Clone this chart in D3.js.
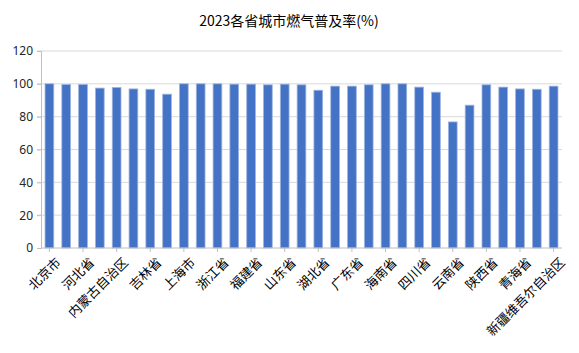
<!DOCTYPE html>
<html>
<head>
<meta charset="utf-8">
<script src="https://cdn.jsdelivr.net/npm/d3@7"></script>
<style>
  body { margin: 0; background: #fff; }
  text { font-family: "Microsoft YaHei", "Noto Sans CJK SC", sans-serif; }
</style>
</head>
<body>
<div id="chart"></div>
<script>
// provinces in the order of the chart
var provinces = ["北京市", "天津市", "河北省", "山西省", "内蒙古自治区", "辽宁省", "吉林省", "黑龙江省",
    "上海市", "江苏省", "浙江省", "安徽省", "福建省", "江西省", "山东省", "河南省",
    "湖北省", "湖南省", "广东省", "广西壮族自治区", "海南省", "重庆市", "四川省", "贵州省",
    "云南省", "西藏自治区", "陕西省", "甘肃省", "青海省", "宁夏回族自治区", "新疆维吾尔自治区"];

// gas coverage rate (%)
var rates = [100, 99.6, 99.6, 97.4, 97.8, 96.9, 96.7, 93.7,
    100, 100, 100, 99.8, 99.8, 99.4, 99.8, 99.4,
    96.1, 98.6, 98.6, 99.4, 100, 100, 98.0, 94.9,
    76.8, 87.0, 99.4, 98.0, 96.9, 96.7, 98.6];

var yTicks = [0, 20, 40, 60, 80, 100, 120];

var setWidth = 579;
var setHeight = 353;
var margin = {top: 51, right: 17, bottom: 105, left: 41};
var width = setWidth - margin.left - margin.right;
var height = setHeight - margin.top - margin.bottom;

var root = d3.select("#chart")
    .append("svg")
    .attr("width", setWidth)
    .attr("height", setHeight);

// title
root.append("text")
    .attr("x", 289)
    .attr("y", 26)
    .attr("text-anchor", "middle")
    .style("font-size", "14px")
    .style("fill", "#000")
    .text("2023各省城市燃气普及率(%)");

var svg = root.append("g")
    .attr("transform", "translate(" + margin.left + "," + margin.top + ")");

var x = d3.scaleBand()
    .domain(provinces)
    .range([0, width])
    .paddingInner(0.48)
    .paddingOuter(0.24);

var y = d3.scaleLinear()
    .domain([0, 120])
    .range([height, 0]);

// gridlines
svg.append("g")
    .selectAll("line")
    .data(yTicks.filter(function (d) { return d > 0; }))
    .join("line")
        .attr("x1", -4)
        .attr("x2", width)
        .attr("y1", function (d) { return y(d); })
        .attr("y2", function (d) { return y(d); })
        .style("stroke", "#d9d9d9")
        .style("stroke-width", 1);

// y axis
var yAxis = svg.append("g")
    .call(d3.axisLeft(y).tickValues(yTicks).tickSize(4).tickPadding(4));
yAxis.select(".domain").style("stroke", "#bfbfbf");
yAxis.selectAll(".tick line").style("stroke", "#bfbfbf");
yAxis.selectAll(".tick text")
    .style("font-size", "12px")
    .style("fill", "#262626")
    .style("font-family", "'Noto Sans', sans-serif");

// bars
svg.selectAll("rect")
    .data(rates)
    .join("rect")
        .attr("x", function (d, i) { return x(provinces[i]); })
        .attr("y", function (d) { return y(d); })
        .attr("width", x.bandwidth())
        .attr("height", function (d) { return height - y(d); })
        .style("fill", "#4472c4")
        .style("stroke", "#9fb5e2")
        .style("stroke-width", 0.8);

// x axis
var xAxis = svg.append("g")
    .attr("transform", "translate(0," + height + ")");
xAxis.append("line")
    .attr("x1", 0)
    .attr("x2", width)
    .style("stroke", "#bfbfbf")
    .style("stroke-width", 1.2);

// only every other province gets a tick and label
var shown = provinces.filter(function (d, i) { return i % 2 === 0; });
xAxis.selectAll(".xtick")
    .data(shown)
    .join("line")
        .attr("class", "xtick")
        .attr("x1", function (d) { return x(d) + x.bandwidth() / 2; })
        .attr("x2", function (d) { return x(d) + x.bandwidth() / 2; })
        .attr("y1", 0)
        .attr("y2", 4)
        .style("stroke", "#bfbfbf");

xAxis.selectAll(".xlabel")
    .data(shown)
    .join("text")
        .attr("class", "xlabel")
        .attr("text-anchor", "end")
        .attr("transform", function (d) {
            return "translate(" + (x(d) + x.bandwidth() / 2 + 9) + ",12) rotate(-45)";
        })
        .attr("dy", "0.35em")
        .style("font-size", "13px")
        .style("fill", "#000")
        .text(function (d) { return d; });
</script>
</body>
</html>
